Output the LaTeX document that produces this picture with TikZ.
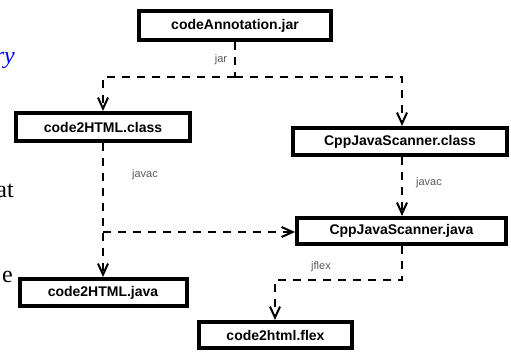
\documentclass[tikz,border=0pt]{standalone}
\usepackage{fontspec}
\setmainfont{Liberation Sans}
\newfontfamily\serifpart{Liberation Serif}
\usetikzlibrary{arrows.meta}
\tikzset{
  filebox/.style={draw=black, line width=4pt, fill=white, inner sep=0pt,
    font=\fontsize{14}{16}\selectfont\bfseries},
  flow/.style={line width=2pt, dash pattern=on 8pt off 7pt},
  flowarrow/.style={flow, -{Straight Barb[length=11pt,width=10pt,line width=2pt]}},
  steplabel/.style={text=black!65, font=\fontsize{11}{13}\selectfont, inner sep=0pt},
  cuttext/.style={font=\serifpart\fontsize{24}{28}\selectfont, inner sep=0pt, anchor=base east}
}
\begin{document}
\begin{tikzpicture}[x=1pt,y=-1pt]
\useasboundingbox (0,0) rectangle (511,351);
% cut-off surrounding text
\node[cuttext, text=blue] (ry) at (15,63) {\itshape ry};
\node[cuttext] (at) at (14,197) {at};
\node[cuttext] (e) at (13,282) {e};
% boxes
\node[filebox, minimum width=192pt, minimum height=29pt] (jar) at (235,25.5) {codeAnnotation.jar};
\node[filebox, minimum width=174pt, minimum height=28pt] (c2hclass) at (103,127) {code2HTML.class};
\node[filebox, minimum width=214pt, minimum height=27pt] (cjsclass) at (400,141.5) {CppJavaScanner.class};
\node[filebox, minimum width=209pt, minimum height=26pt] (cjsjava) at (401.5,231) {CppJavaScanner.java};
\node[filebox, minimum width=167pt, minimum height=27pt] (c2hjava) at (103,292.5) {code2HTML.java};
\node[filebox, minimum width=153pt, minimum height=26pt] (flex) at (275.5,335) {code2html.flex};
% junctions
\coordinate (j1) at (235,77);
\coordinate (jl) at (103,77);
\coordinate (jr) at (402,77);
\coordinate (jb) at (103,232);
\coordinate (j2) at (402,280);
\coordinate (j3) at (275,280);
% connectors
\draw[flow] (jar.south) -- (j1);
\draw[flowarrow] (j1) -- (jl) -- (c2hclass.north);
\draw[flowarrow] (j1) -- (jr) -- (jr |- cjsclass.north);
\draw[flowarrow] (c2hclass.south) -- (c2hjava.north);
\draw[flowarrow] (jb) -- (jb -| cjsjava.west);
\draw[flowarrow] (jr |- cjsclass.south) -- (jr |- cjsjava.north);
\draw[flowarrow] (jr |- cjsjava.south) -- (j2) -- (j3) -- (j3 |- flex.north);
% labels
\node[steplabel] (ljar) at (221,60) {jar};
\node[steplabel] (ljavac1) at (145,175) {javac};
\node[steplabel] (ljavac2) at (429,183) {javac};
\node[steplabel] (ljflex) at (321,267) {jflex};
\end{tikzpicture}
\end{document}
